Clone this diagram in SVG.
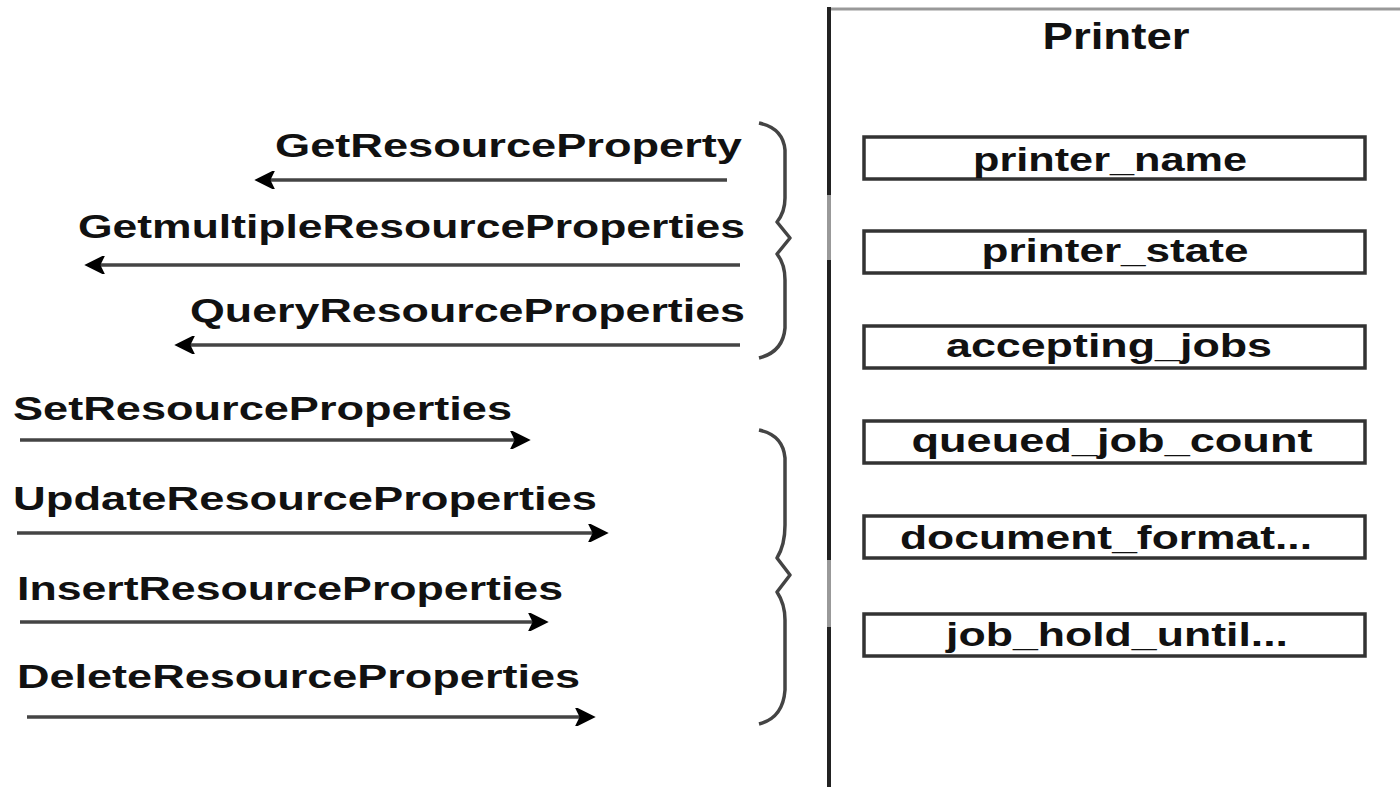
<svg xmlns="http://www.w3.org/2000/svg" width="1400" height="787" viewBox="0 0 1400 787">
<style>
.lbl{font-family:"Liberation Sans",Arial,sans-serif;font-size:34px;font-weight:bold;fill:#111;}
.prop{font-family:"Liberation Sans",Arial,sans-serif;font-size:33px;font-weight:bold;fill:#111;text-anchor:middle;}
.box{fill:#fff;stroke:#333;stroke-width:3.5;}
.conn{stroke:#444;stroke-width:3.5;fill:none;}
.brace{stroke:#444;stroke-width:3.5;fill:none;stroke-linejoin:round;}
</style>
<defs>
<marker id="ah" viewBox="0 0 10 10" refX="9" refY="5" markerWidth="7" markerHeight="5" markerUnits="strokeWidth" orient="auto">
<path d="M0,0 L10,5 L0,10 L2.5,5 Z" fill="#000" stroke="#000" stroke-width="1"/>
</marker>
</defs>
<rect width="1400" height="787" fill="#fff"/>
<g id="printer">
<line x1="828" y1="9" x2="1400" y2="9" stroke="#999" stroke-width="3"/>
<line x1="829" y1="7" x2="829" y2="195" stroke="#222" stroke-width="4"/>
<line x1="829" y1="195" x2="829" y2="260" stroke="#999" stroke-width="4"/>
<line x1="829" y1="260" x2="829" y2="560" stroke="#222" stroke-width="4"/>
<line x1="829" y1="560" x2="829" y2="627" stroke="#999" stroke-width="4"/>
<line x1="829" y1="627" x2="829" y2="787" stroke="#222" stroke-width="4"/>
<text x="1116" y="49" font-family="'Liberation Sans',Arial,sans-serif" font-size="37" font-weight="bold" fill="#111" text-anchor="middle" textLength="147" lengthAdjust="spacingAndGlyphs">Printer</text>
</g>
<g id="p1"><rect class="box" x="864" y="137" width="501" height="42"/><text class="prop" x="1110" y="171" textLength="274" lengthAdjust="spacingAndGlyphs">printer_name</text></g>
<g id="p2"><rect class="box" x="864" y="231" width="501" height="42"/><text class="prop" x="1115" y="262" textLength="267" lengthAdjust="spacingAndGlyphs">printer_state</text></g>
<g id="p3"><rect class="box" x="864" y="326" width="501" height="42"/><text class="prop" x="1109" y="357" textLength="326" lengthAdjust="spacingAndGlyphs">accepting_jobs</text></g>
<g id="p4"><rect class="box" x="864" y="421" width="501" height="42"/><text class="prop" x="1112" y="452" textLength="401" lengthAdjust="spacingAndGlyphs">queued_job_count</text></g>
<g id="p5"><rect class="box" x="864" y="516" width="501" height="42"/><text class="prop" x="1106" y="549" textLength="412" lengthAdjust="spacingAndGlyphs">document_format...</text></g>
<g id="p6"><rect class="box" x="864" y="614" width="501" height="42"/><text class="prop" x="1117" y="646" textLength="342" lengthAdjust="spacingAndGlyphs">job_hold_until...</text></g>
<g id="labels">
<text class="lbl" x="275" y="157" textLength="467" lengthAdjust="spacingAndGlyphs">GetResourceProperty</text>
<text class="lbl" x="78" y="238" textLength="667" lengthAdjust="spacingAndGlyphs">GetmultipleResourceProperties</text>
<text class="lbl" x="190" y="322" textLength="555" lengthAdjust="spacingAndGlyphs">QueryResourceProperties</text>
<text class="lbl" x="13" y="420" textLength="499" lengthAdjust="spacingAndGlyphs">SetResourceProperties</text>
<text class="lbl" x="13" y="510" textLength="584" lengthAdjust="spacingAndGlyphs">UpdateResourceProperties</text>
<text class="lbl" x="17" y="600" textLength="546" lengthAdjust="spacingAndGlyphs">InsertResourceProperties</text>
<text class="lbl" x="17" y="688" textLength="563" lengthAdjust="spacingAndGlyphs">DeleteResourceProperties</text>
</g>
<g id="connectors">
<line class="conn" x1="727" y1="180" x2="258" y2="180" marker-end="url(#ah)"/>
<line class="conn" x1="740" y1="265" x2="88" y2="265" marker-end="url(#ah)"/>
<line class="conn" x1="740" y1="345" x2="178" y2="345" marker-end="url(#ah)"/>
<line class="conn" x1="20" y1="440" x2="527" y2="440" marker-end="url(#ah)"/>
<line class="conn" x1="17" y1="533" x2="605" y2="533" marker-end="url(#ah)"/>
<line class="conn" x1="20" y1="622" x2="545" y2="622" marker-end="url(#ah)"/>
<line class="conn" x1="27" y1="717" x2="592" y2="717" marker-end="url(#ah)"/>
</g>
<g id="braces">
<path class="brace" d="M759,123 Q783,128 785,150 L785,198 Q785,212 777,222 L790,238 L777,254 Q785,264 785,280 L785,328 Q783,352 759,358"/>
<path class="brace" d="M759,430 Q783,435 785,458 L785,525 Q785,545 777,558 L790,575 L777,592 Q785,604 785,620 L785,690 Q783,718 759,724"/>
</g>
</svg>
